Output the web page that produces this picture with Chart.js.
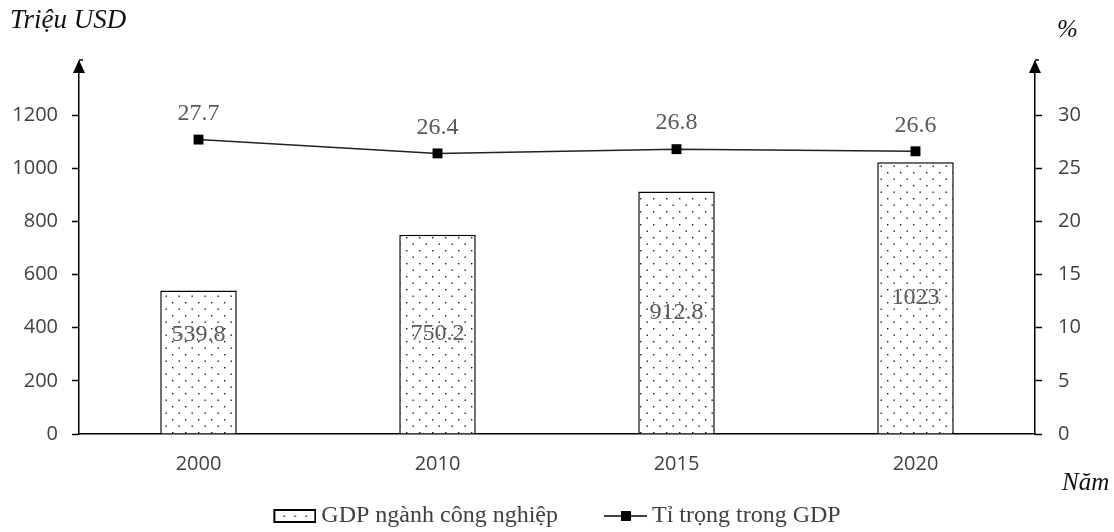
<!DOCTYPE html>
<html><head><meta charset="utf-8">
<script src="https://cdn.jsdelivr.net/npm/chart.js@4.4.1/dist/chart.umd.min.js"></script>
<style>html,body{margin:0;padding:0;background:#fff;}canvas{display:block;}</style>
</head><body>
<canvas id="c" width="1114" height="532"></canvas>
<script>
// ---- data ----
const years = ['2000', '2010', '2015', '2020'];
const gdpIndustry = [539.8, 750.2, 912.8, 1023];
const shareInGdp = [27.7, 26.4, 26.8, 26.6];
const gdpLabels = ['539.8', '750.2', '912.8', '1023'];
const shareLabels = ['27.7', '26.4', '26.8', '26.6'];
const leftTicks = [0, 200, 400, 600, 800, 1000, 1200];
const rightTicks = [0, 5, 10, 15, 20, 25, 30];
const seriesNames = ['GDP ngành công nghiệp', 'Tỉ trọng trong GDP'];
const leftTitle = 'Triệu USD';
const rightTitle = '%';
const bottomTitle = 'Năm';

// ---- styles ----
const SERIF = "'Liberation Serif', 'Times New Roman', serif";
const SANS = "'Open Sans', 'Noto Sans', sans-serif";
const TXT = '#404040';
const LBL = '#595959';
const barLabelNudge = [-27, 0, 0, 0];

const canvas = document.getElementById('c');
const ctx0 = canvas.getContext('2d');

function makeDotPattern() {
  const c = document.createElement('canvas');
  c.width = 13; c.height = 13;
  const g = c.getContext('2d');
  g.fillStyle = '#fff'; g.fillRect(0, 0, 13, 13);
  g.fillStyle = '#1a1a1a';
  g.fillRect(3, 3, 1.4, 1.4);
  g.fillRect(9.5, 9.5, 1.4, 1.4);
  return ctx0.createPattern(c, 'repeat');
}
const dots = makeDotPattern();

// legend icons: canvas 86 wide, visible icon occupies x 43..86
function barIcon() {
  const c = document.createElement('canvas');
  c.width = 86; c.height = 16;
  const g = c.getContext('2d');
  g.fillStyle = '#fff'; g.fillRect(44, 2, 41, 12);
  g.strokeStyle = '#000'; g.lineWidth = 2;
  g.strokeRect(44, 2, 41, 12);
  g.fillStyle = '#222';
  [53, 64, 75].forEach(x => g.fillRect(x, 7.5, 1.5, 1.5));
  return c;
}
function lineIcon() {
  const c = document.createElement('canvas');
  c.width = 86; c.height = 16;
  const g = c.getContext('2d');
  g.strokeStyle = '#000'; g.lineWidth = 1.5;
  g.beginPath(); g.moveTo(43, 8); g.lineTo(86, 8); g.stroke();
  g.fillStyle = '#000'; g.fillRect(60, 3, 10, 10);
  return c;
}

const decor = {
  id: 'decor',
  afterDatasetsDraw(chart) {
    const ctx = chart.ctx;
    ctx.save();
    ctx.fillStyle = LBL;
    ctx.font = '24px ' + SERIF;
    ctx.textAlign = 'center';
    ctx.textBaseline = 'middle';
    chart.getDatasetMeta(0).data.forEach((el, i) => {
      ctx.fillText(gdpLabels[i], el.x, (el.y + el.base) / 2 + barLabelNudge[i]);
    });
    chart.getDatasetMeta(1).data.forEach((el, i) => {
      ctx.fillText(shareLabels[i], el.x, el.y - 26);
    });
    ctx.restore();
  },
  afterDraw(chart) {
    const ctx = chart.ctx;
    const a = chart.chartArea;
    ctx.save();
    ctx.fillStyle = '#000';
    ctx.strokeStyle = '#000';
    ctx.lineWidth = 1.5;
    [a.left, a.right].forEach(x => {
      ctx.beginPath();
      ctx.moveTo(x, a.top - 2);
      ctx.lineTo(x - 6, a.top + 11);
      ctx.lineTo(x + 6, a.top + 11);
      ctx.closePath();
      ctx.fill();
      ctx.beginPath();
      ctx.moveTo(x, a.top - 2); ctx.lineTo(x + 4, a.top - 2); ctx.stroke();
    });
    ctx.fillStyle = '#111';
    ctx.textBaseline = 'alphabetic';
    ctx.textAlign = 'left';
    ctx.font = 'italic 27px ' + SERIF;
    ctx.fillText(leftTitle, 10, 28);
    ctx.font = 'italic 25px ' + SERIF;
    ctx.fillText(rightTitle, 1057, 37);
    ctx.fillText(bottomTitle, 1062, 490);
    ctx.restore();
  }
};

new Chart(canvas, {
  data: {
    labels: years,
    datasets: [
      {
        type: 'bar',
        label: seriesNames[0],
        data: gdpIndustry,
        yAxisID: 'y',
        backgroundColor: dots,
        borderColor: '#000',
        borderWidth: 1.5,
        categoryPercentage: 1,
        barPercentage: 0.32,
        order: 2
      },
      {
        type: 'line',
        label: seriesNames[1],
        data: shareInGdp,
        yAxisID: 'y1',
        borderColor: '#222',
        borderWidth: 1.5,
        pointStyle: 'rect',
        pointRadius: 7,
        pointBackgroundColor: '#000',
        pointBorderColor: '#000',
        pointBorderWidth: 0,
        tension: 0,
        order: 1
      }
    ]
  },
  options: {
    responsive: false,
    animation: false,
    layout: { padding: { top: 62, bottom: -6, left: -18, right: 18 } },
    plugins: {
      tooltip: { enabled: false },
      legend: {
        position: 'bottom',
        labels: {
          usePointStyle: true,
          pointStyleWidth: 72,
          padding: 10,
          color: TXT,
          font: { family: SERIF, size: 24 },
          generateLabels: () => [
            { text: seriesNames[0], pointStyle: barIcon(), fontColor: TXT, datasetIndex: 0, hidden: false, lineWidth: 0 },
            { text: seriesNames[1], pointStyle: lineIcon(), fontColor: TXT, datasetIndex: 1, hidden: false, lineWidth: 0 }
          ]
        }
      }
    },
    scales: {
      x: {
        offset: true,
        grid: { display: false, drawTicks: false },
        border: { display: true, color: '#000', width: 1.5 },
        ticks: { color: TXT, font: { family: SANS, size: 20 }, padding: 18 },
        afterFit: s => { s.height = 60; }
      },
      y: {
        position: 'left',
        min: 0, max: 1400,
        ticks: {
          stepSize: 200,
          color: TXT,
          font: { family: SANS, size: 20 },
          padding: 14,
          callback: v => leftTicks.includes(v) ? String(v) : ''
        },
        grid: {
          drawOnChartArea: false,
          tickLength: 7,
          tickWidth: 1.5,
          tickColor: c => leftTicks.includes(c.tick && c.tick.value) ? '#000' : 'rgba(0,0,0,0)'
        },
        border: { color: '#000', width: 1.5 },
        afterFit: s => { s.width = 97; }
      },
      y1: {
        position: 'right',
        min: 0, max: 35,
        ticks: {
          stepSize: 5,
          color: TXT,
          font: { family: SANS, size: 20 },
          padding: 16,
          callback: v => rightTicks.includes(v) ? String(v) : ''
        },
        grid: {
          drawOnChartArea: false,
          tickLength: 7,
          tickWidth: 1.5,
          tickColor: c => rightTicks.includes(c.tick && c.tick.value) ? '#000' : 'rgba(0,0,0,0)'
        },
        border: { color: '#000', width: 1.5 },
        afterFit: s => { s.width = 61; }
      }
    }
  },
  plugins: [decor]
});
</script>
</body></html>
